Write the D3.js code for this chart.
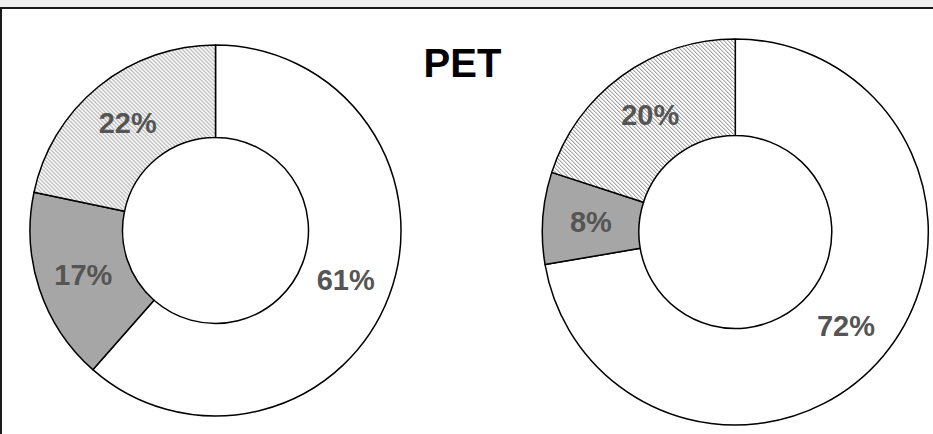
<!DOCTYPE html>
<html>
<head>
<meta charset="utf-8">
<script src="https://cdn.jsdelivr.net/npm/d3@7"></script>
<style>
  html, body { margin: 0; padding: 0; background: #fff; }
  svg { display: block; }
</style>
</head>
<body>
<svg id="chart" width="933" height="434"></svg>
<script>
const title = "PET";
const categories = ["A", "B", "C"];
const leftValues = [61.5, 16.8, 21.7];
const leftLabels = ["61%", "17%", "22%"];
const rightValues = [72.3, 7.7, 20.0];
const rightLabels = ["72%", "8%", "20%"];
const fills = ["#ffffff", "#a6a6a6", "url(#hatch)"];

const W = 933, H = 434;
const svg = d3.select("#chart");

const defs = svg.append("defs");
const pat = defs.append("pattern")
  .attr("id", "hatch")
  .attr("patternUnits", "userSpaceOnUse")
  .attr("width", 4).attr("height", 4);
pat.append("rect").attr("width", 4).attr("height", 4).attr("fill", "#fff");
pat.append("path")
  .attr("d", "M-1,-1 L5,5 M3,-1 L5,1 M-1,3 L1,5")
  .attr("stroke", "#808080").attr("stroke-width", 1);

// frame: grey band on top, black top and left edges
svg.append("rect").attr("x", 0).attr("y", 0).attr("width", W).attr("height", 7).attr("fill", "#f0f0f0");
svg.append("line").attr("x1", 0).attr("x2", W).attr("y1", 8).attr("y2", 8)
  .attr("stroke", "#1a1a1a").attr("stroke-width", 2);
svg.append("line").attr("x1", 1).attr("x2", 1).attr("y1", 8).attr("y2", H)
  .attr("stroke", "#1a1a1a").attr("stroke-width", 2);

svg.append("text")
  .attr("x", 462.5).attr("y", 77)
  .attr("text-anchor", "middle")
  .attr("font-family", "Liberation Sans, Arial, sans-serif")
  .attr("font-weight", "bold")
  .attr("font-size", 40)
  .attr("fill", "#000")
  .text(title);

const pie = d3.pie().sort(null).value(d => d);

function donut(values, labels, cx, cy, r0, r1) {
  const arc = d3.arc().innerRadius(r0).outerRadius(r1);
  const g = svg.append("g").attr("transform", `translate(${cx},${cy})`);
  const arcs = pie(values);
  g.selectAll("path")
    .data(arcs)
    .join("path")
    .attr("d", arc)
    .attr("fill", (d, i) => fills[i])
    .attr("stroke", "#000")
    .attr("stroke-width", 1.5)
    .attr("stroke-linejoin", "round");
  g.selectAll("text")
    .data(arcs)
    .join("text")
    .attr("transform", d => `translate(${arc.centroid(d)})`)
    .attr("text-anchor", "middle")
    .attr("dy", "0.36em")
    .attr("font-family", "Liberation Sans, Arial, sans-serif")
    .attr("font-weight", "bold")
    .attr("font-size", 29)
    .attr("fill", "#555555")
    .text((d, i) => labels[i]);
}

donut(leftValues, leftLabels, 215.5, 230.5, 93, 185.5);
donut(rightValues, rightLabels, 735.3, 232, 96.5, 193);
</script>
</body>
</html>
